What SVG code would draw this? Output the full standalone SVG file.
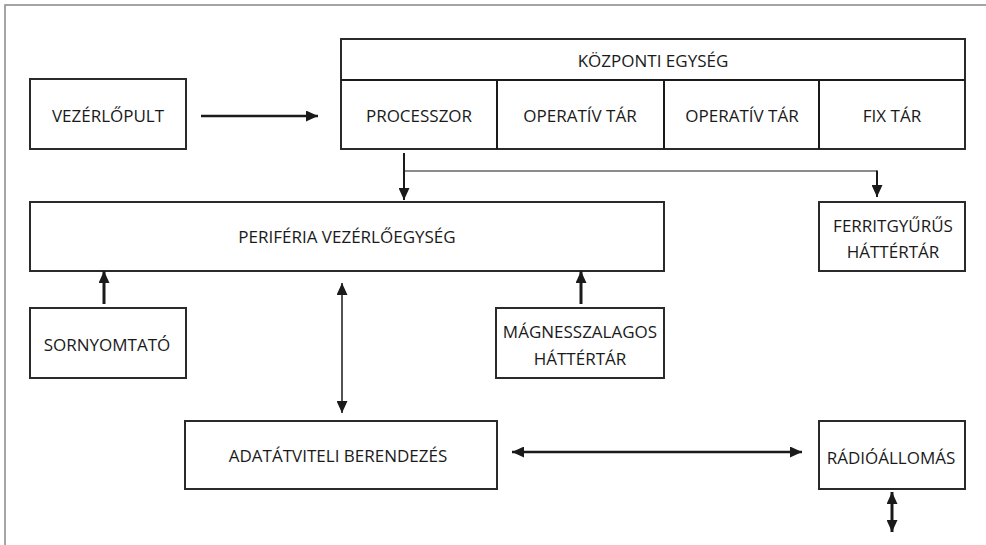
<svg xmlns="http://www.w3.org/2000/svg" width="986" height="545" viewBox="0 0 986 545">
<defs>
<style>
.box{fill:#fff;stroke:#2a2a2a;stroke-width:2}
.t{font-family:"Open Sans","Liberation Sans",sans-serif;font-size:17px;fill:#1a1a1a;text-anchor:middle;dominant-baseline:central}
.ln{stroke:#1a1a1a;fill:none}
</style>
<marker id="ah" viewBox="0 0 12 11" refX="12" refY="5.5" markerWidth="12" markerHeight="11" markerUnits="userSpaceOnUse" orient="auto-start-reverse"><path d="M0,0 L12,5.5 L0,11 z" fill="#1a1a1a"/></marker>
</defs>
<rect width="986" height="545" fill="#fff"/>
<path d="M5,545 V5 H986" stroke="#888" stroke-width="1.5" fill="none"/>

<g id="vezerlopult"><rect class="box" x="30" y="79" width="156" height="70"/><text class="t" x="108" y="115">VEZÉRLŐPULT</text></g>

<g id="kozponti-egyseg">
<rect class="box" x="341" y="39" width="624" height="110"/>
<line class="ln" stroke-width="2" x1="341" y1="80" x2="965" y2="80"/>
<text class="t" x="653" y="60">KÖZPONTI EGYSÉG</text>
</g>
<g id="processzor"><line class="ln" stroke-width="2" x1="497" y1="80" x2="497" y2="149"/><text class="t" x="419" y="115">PROCESSZOR</text></g>
<g id="operativ-tar-1"><line class="ln" stroke-width="2" x1="664" y1="80" x2="664" y2="149"/><text class="t" x="580" y="115">OPERATÍV TÁR</text></g>
<g id="operativ-tar-2"><line class="ln" stroke-width="2" x1="819" y1="80" x2="819" y2="149"/><text class="t" x="742" y="115">OPERATÍV TÁR</text></g>
<g id="fix-tar"><text class="t" x="892" y="115">FIX TÁR</text></g>

<g id="periferia"><rect class="box" x="30" y="202" width="634" height="69"/><text class="t" x="347" y="236">PERIFÉRIA VEZÉRLŐEGYSÉG</text></g>
<g id="ferrit"><rect class="box" x="819" y="202" width="146" height="69"/><text class="t" x="893" y="225">FERRITGYŰRŰS</text><text class="t" x="893" y="251">HÁTTÉRTÁR</text></g>
<g id="sornyomtato"><rect class="box" x="30" y="308" width="156" height="70"/><text class="t" x="107" y="344">SORNYOMTATÓ</text></g>
<g id="magnesszalagos"><rect class="box" x="496" y="308" width="168" height="70"/><text class="t" x="580" y="331">MÁGNESSZALAGOS</text><text class="t" x="580" y="358">HÁTTÉRTÁR</text></g>
<g id="adatatviteli"><rect class="box" x="185" y="421" width="312" height="68"/><text class="t" x="338" y="455">ADATÁTVITELI BERENDEZÉS</text></g>
<g id="radioallomas"><rect class="box" x="819" y="421" width="146" height="68"/><text class="t" x="891" y="457">RÁDIÓÁLLOMÁS</text></g>

<g id="connectors">
<line class="ln" stroke-width="2.5" x1="201" y1="116" x2="318" y2="116" marker-end="url(#ah)"/>
<line class="ln" stroke-width="2" x1="404" y1="153" x2="404" y2="200" marker-end="url(#ah)"/>
<line class="ln" stroke-width="1.2" x1="404" y1="171" x2="877" y2="171"/>
<line class="ln" stroke-width="2" x1="877" y1="170.4" x2="877" y2="197" marker-end="url(#ah)"/>
<line class="ln" stroke-width="3" x1="104" y1="304" x2="104" y2="271" marker-end="url(#ah)"/>
<line class="ln" stroke-width="3" x1="581" y1="304" x2="581" y2="271" marker-end="url(#ah)"/>
<line class="ln" stroke-width="1.5" x1="342" y1="283" x2="342" y2="413" marker-start="url(#ah)" marker-end="url(#ah)"/>
<line class="ln" stroke-width="2.5" x1="512" y1="452" x2="802" y2="452" marker-start="url(#ah)" marker-end="url(#ah)"/>
<line class="ln" stroke-width="3" x1="892" y1="492" x2="892" y2="532" marker-start="url(#ah)" marker-end="url(#ah)"/>
</g>
</svg>
